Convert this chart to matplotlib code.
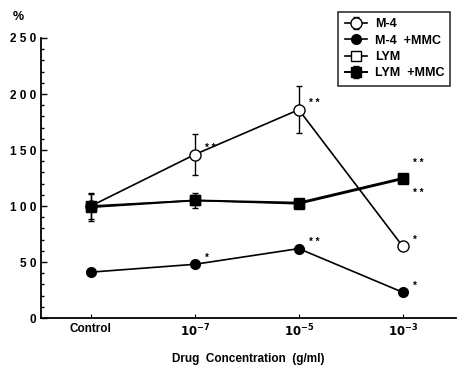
import matplotlib
matplotlib.use("Agg")
import matplotlib.pyplot as plt

# data
categories = ["Control", r"$\mathbf{10^{-7}}$", r"$\mathbf{10^{-5}}$", r"$\mathbf{10^{-3}}$"]
m4 = [100, 146, 186, 64]
m4_err = [12, 18, 21, 0]
m4_mmc = [41, 48, 62, 23]
lym = [100, 105, 102, 124]
lym_mmc = [99, 105, 103, 125]
lym_mmc_err = [12, 7, 0, 0]
stars_m4 = ["", "* *", "* *", "*"]
stars_m4_mmc = ["", "*", "* *", "*"]

plt.rcParams["font.family"] = ["Liberation Sans", "DejaVu Sans"]
plt.rcParams["font.weight"] = "bold"

fig = plt.figure(figsize=(4.66, 3.8), dpi=100)
ax = fig.add_axes([0.088, 0.163, 0.89, 0.737])
xs = range(len(categories))

ax.errorbar(xs, lym, fmt="-s", color="black", mfc="white", ms=7, lw=1.2, label="LYM", zorder=2)
ax.errorbar(xs, m4_mmc, fmt="-o", color="black", ms=7, lw=1.2, label="M-4  +MMC", zorder=3)
ax.errorbar(xs, m4, yerr=m4_err, fmt="-o", color="black", mfc="white", ms=8, lw=1.2,
            capsize=2, elinewidth=1, label="M-4", zorder=4)
ax.errorbar(xs, lym_mmc, yerr=lym_mmc_err, fmt="-s", color="black", ms=7, lw=1.4,
            capsize=2, elinewidth=1, label="LYM  +MMC", zorder=5)

for x, y, s in zip(xs, m4, stars_m4):
    if s:
        ax.text(x + 0.1, y + 6, s, fontsize=7, ha="left", va="center")
for x, y, s in zip(xs, m4_mmc, stars_m4_mmc):
    if s:
        ax.text(x + 0.1, y + 6, s, fontsize=7, ha="left", va="center")
ax.text(3.1, 138, "* *", fontsize=7, ha="left", va="center")
ax.text(3.1, 112, "* *", fontsize=7, ha="left", va="center")

ax.set_xlim(-0.48, 3.51)
ax.set_ylim(0, 250)
ax.set_xticks(list(xs))
ax.set_xticklabels(categories, fontsize=8.5, fontweight="bold")
ax.set_yticks([0, 50, 100, 150, 200, 250])
ax.set_yticklabels(["0", "5 0", "1 0 0", "1 5 0", "2 0 0", "2 5 0"], fontsize=8.5, fontweight="bold")
ax.set_yticks(range(0, 251, 10), minor=True)
ax.tick_params(axis="y", which="both", direction="in", length=4, width=1)
ax.tick_params(axis="y", which="minor", length=2)
ax.tick_params(axis="x", direction="in", length=3)
ax.spines["top"].set_visible(False)
ax.spines["right"].set_visible(False)
ax.spines["left"].set_linewidth(1.3)
ax.spines["bottom"].set_linewidth(1.3)

ax.set_xlabel("Drug  Concentration  (g/ml)", fontsize=8.5, fontweight="bold", labelpad=10)
fig.text(0.04, 0.955, "%", fontsize=9, fontweight="bold", ha="center", va="center")

handles, labels = ax.get_legend_handles_labels()
order = [2, 1, 0, 3]
leg = fig.legend([handles[i] for i in order], [labels[i] for i in order],
                 loc="upper right", bbox_to_anchor=(0.98, 0.985), fontsize=9,
                 frameon=True, fancybox=False, edgecolor="black", handlelength=1.8,
                 handletextpad=0.6, borderpad=0.5, labelspacing=0.35)
leg.get_frame().set_linewidth(1.2)

fig.savefig("out.png", dpi=100)
